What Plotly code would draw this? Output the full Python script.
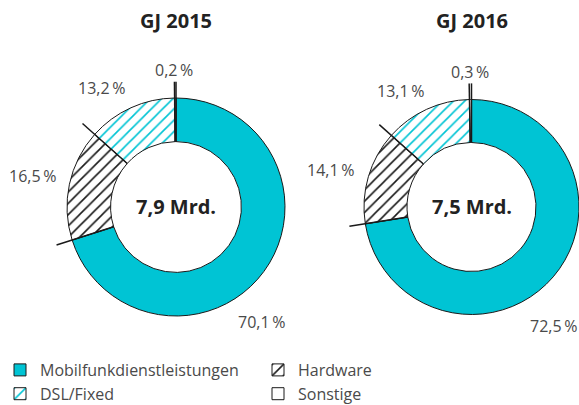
import math

import plotly.graph_objects as go

labels = ["Mobilfunkdienstleistungen", "Hardware", "DSL/Fixed", "Sonstige"]
share_2015 = [70.1, 16.5, 13.2, 0.2]
share_2016 = [72.5, 14.1, 13.1, 0.3]
years = ["GJ 2015", "GJ 2016"]
totals = ["7,9 Mrd.", "7,5 Mrd."]

W, H = 579, 405
TEAL = "#00c4d4"
GREY = "#4a4a4a"
HOLE = 0.6

# pixel geometry of the two donuts: centre x, centre y, radius
donuts = [(176, 207, 109), (471.5, 207, 107.5)]
# where the percent labels sit (pixels), one list per donut
label_pos = [
    [(261, 322), (32, 176), (101, 88), (174, 70)],
    [(553, 326), (330, 170), (400, 91), (470, 72)],
]


def px(x, y):
    return x / W, 1 - y / H


def fmt(v):
    return f"{v:.1f}".replace(".", ",") + "\u2009%"


def note(x, y, text, size, color):
    ax, ay = px(x, y)
    fig.add_annotation(x=ax, y=ay, xref="paper", yref="paper",
                       xanchor="center", yanchor="middle",
                       text=text, showarrow=False,
                       font=dict(size=size, color=color))


fig = go.Figure()
for i, values in enumerate([share_2015, share_2016]):
    cx, cy, r = donuts[i]
    x0, y1 = px(cx - r, cy - r)
    x1, y0 = px(cx + r, cy + r)
    fig.add_trace(go.Pie(
        labels=labels,
        values=values,
        hole=HOLE,
        sort=False,
        direction="clockwise",
        rotation=0,
        textinfo="none",
        hoverinfo="label+percent",
        showlegend=(i == 0),
        domain=dict(x=[x0, min(x1, 1)], y=[y0, y1]),
        marker=dict(
            colors=[TEAL, "white", "white", "white"],
            line=dict(color="#1a1a1a", width=1),
            pattern=dict(
                shape=["", "/", "/", ""],
                fgcolor=[TEAL, "#1a1a1a", TEAL, "white"],
                bgcolor=[TEAL, "white", "white", "white"],
                size=8,
                solidity=0.2,
            ),
        ),
    ))

    # boundary lines sticking out of the ring
    total = sum(values)
    acc = 0
    for v in values:
        ang = 2 * math.pi * acc / total
        acc += v
        xa, ya = px(cx + r * HOLE * math.sin(ang), cy - r * HOLE * math.cos(ang))
        xb, yb = px(cx + r * 1.15 * math.sin(ang), cy - r * 1.15 * math.cos(ang))
        fig.add_shape(type="line", xref="paper", yref="paper",
                      x0=xa, y0=ya, x1=xb, y1=yb,
                      line=dict(color="#1a1a1a", width=1.5))

    for v, (lx, ly) in zip(values, label_pos[i]):
        note(lx, ly, fmt(v), 16, GREY)

    note(cx, 21, f"<b>{years[i]}</b>", 20, "#222")
    note(cx, cy, f"<b>{totals[i]}</b>", 20, "#222")

fig.update_layout(
    width=W,
    height=H,
    margin=dict(l=0, r=0, t=0, b=0, autoexpand=False),
    paper_bgcolor="white",
    plot_bgcolor="white",
    font=dict(family="Open Sans", color=GREY),
    legend=dict(
        orientation="h",
        x=0,
        xanchor="left",
        y=1 - 353 / H,
        yanchor="top",
        entrywidth=213,
        font=dict(size=16, color=GREY),
        traceorder="normal",
    ),
)

# drop the browser's default 8px body margin so the figure sits at 0,0
fig.write_html("out.html", config={"displayModeBar": False},
               post_script="document.body.style.margin='0';")
